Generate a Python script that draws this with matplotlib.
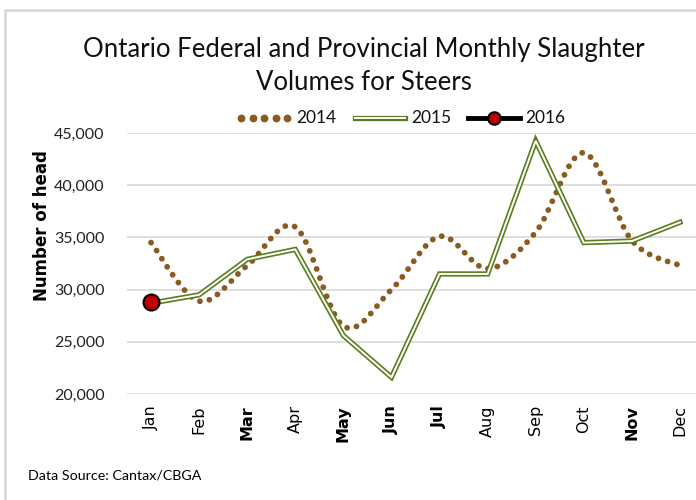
import numpy as np
import matplotlib
matplotlib.use("Agg")
import matplotlib.pyplot as plt
from matplotlib.lines import Line2D
from matplotlib.patches import PathPatch, Rectangle
from matplotlib.path import Path

# Daten
months = ["Jan", "Feb", "Mar", "Apr", "May", "Jun",
          "Jul", "Aug", "Sep", "Oct", "Nov", "Dec"]
vals_2014 = [34500, 28900, 32300, 36000, 26500, 30000,
             35100, 32000, 35500, 43100, 34700, 32300]
vals_2015 = [28700, 29500, 32900, 33850, 25600, 21600,
             31500, 31500, 44250, 34500, 34650, 36450]
vals_2016 = [28800]
years = ["2014", "2015", "2016"]
title_lines = ["Ontario Federal and Provincial Monthly Slaughter",
               "Volumes for Steers"]
bold_months = ["Mar", "May", "Jun", "Jul", "Nov"]

c2014 = "#8a5a20"
c2015 = "#5b7c1f"
grid_c = "#d9d9d9"
W, H = 696, 500

fig = plt.figure(figsize=(6.96, 5.0), dpi=100)
ax = fig.add_axes([127 / W, 106 / H, 577 / W, 261 / H])

x = np.arange(len(months))

# 2014: geglättete Linie (Bezier wie Excel)
pts = np.column_stack([x, vals_2014]).astype(float)
verts = [pts[0]]
codes = [Path.MOVETO]
n = len(pts)
for i in range(n - 1):
    p0 = pts[i - 1] if i > 0 else pts[i]
    p1, p2 = pts[i], pts[i + 1]
    p3 = pts[i + 2] if i + 2 < n else pts[i + 1]
    verts += [p1 + (p2 - p0) / 6, p2 - (p3 - p1) / 6, p2]
    codes += [Path.CURVE4] * 3
ax.add_patch(PathPatch(Path(verts, codes), fill=False, edgecolor=c2014,
                       lw=4.2, linestyle=(0, (0.01, 1.65)),
                       capstyle="round", zorder=3))

# 2015: Doppellinie
ax.plot(x, vals_2015, color=c2015, lw=3.8, zorder=4, solid_joinstyle="miter")
ax.plot(x, vals_2015, color="white", lw=1.4, zorder=5, solid_joinstyle="miter")

# 2016
ax.plot(x[:len(vals_2016)], vals_2016, color="black", lw=3.5, marker="o",
        markersize=11.5, markerfacecolor="#c00000", markeredgecolor="black",
        markeredgewidth=1.5, zorder=6)

ax.set_xlim(-0.5, 11.5)
ax.set_ylim(20000, 45000)
ax.set_yticks(np.arange(20000, 45001, 5000))
ax.set_yticklabels([f"{v:,}" for v in range(20000, 45001, 5000)],
                   fontsize=11.5, family="Lato", color="#222222")
ax.set_xticks(x)
ax.set_xticklabels(months, rotation=90, fontsize=11.5, family="DejaVu Sans")
for lab in ax.get_xticklabels():
    if lab.get_text() in bold_months:
        lab.set_fontweight("bold")
ax.tick_params(length=0, axis="y", pad=16)
ax.tick_params(length=0, axis="x", pad=8)
ax.grid(axis="y", color=grid_c, lw=1.2)
ax.set_axisbelow(True)
for s in ax.spines.values():
    s.set_visible(False)

fig.text(42 / W, 274 / H, "Number of head", rotation=90, ha="center",
         va="center", fontsize=12, fontweight="bold", family="DejaVu Sans")

# Titel, zwei Zeilen
for ty, line in zip([50, 82], title_lines):
    fig.text(364 / W, 1 - ty / H, line, ha="center", va="center",
             fontsize=18.5, family="Lato", color="#111111")

fig.text(28 / W, 24 / H, "Data Source: Cantax/CBGA", ha="left",
         va="center", fontsize=10.3, family="Lato")

# Legende (manuell, Pixelpositionen)
ly = 1 - 118 / H
fig.add_artist(Line2D(np.linspace(241, 287, 5) / W, [ly] * 5, ls="none",
                      marker="o", markersize=4.6, color=c2014))
fig.add_artist(Line2D([355 / W, 405 / W], [ly, ly], color=c2015, lw=3.8))
fig.add_artist(Line2D([355 / W, 405 / W], [ly, ly], color="white", lw=1.4))
fig.add_artist(Line2D([468 / W, 520 / W], [ly, ly], color="black", lw=3.5))
fig.add_artist(Line2D([494 / W], [ly], marker="o", markersize=9,
                      markerfacecolor="#c00000", markeredgecolor="black",
                      markeredgewidth=1.5))
for tx, yr in zip([296, 411, 525], years):
    fig.text(tx / W, ly, yr, ha="left", va="center", fontsize=12.5,
             family="Lato", color="#111111")

fig.add_artist(Rectangle((5 / W, -0.1), 1.1, (490 / H) + 0.1,
                         transform=fig.transFigure, fill=False,
                         edgecolor=grid_c, lw=2))

fig.savefig("out.png", dpi=100)
